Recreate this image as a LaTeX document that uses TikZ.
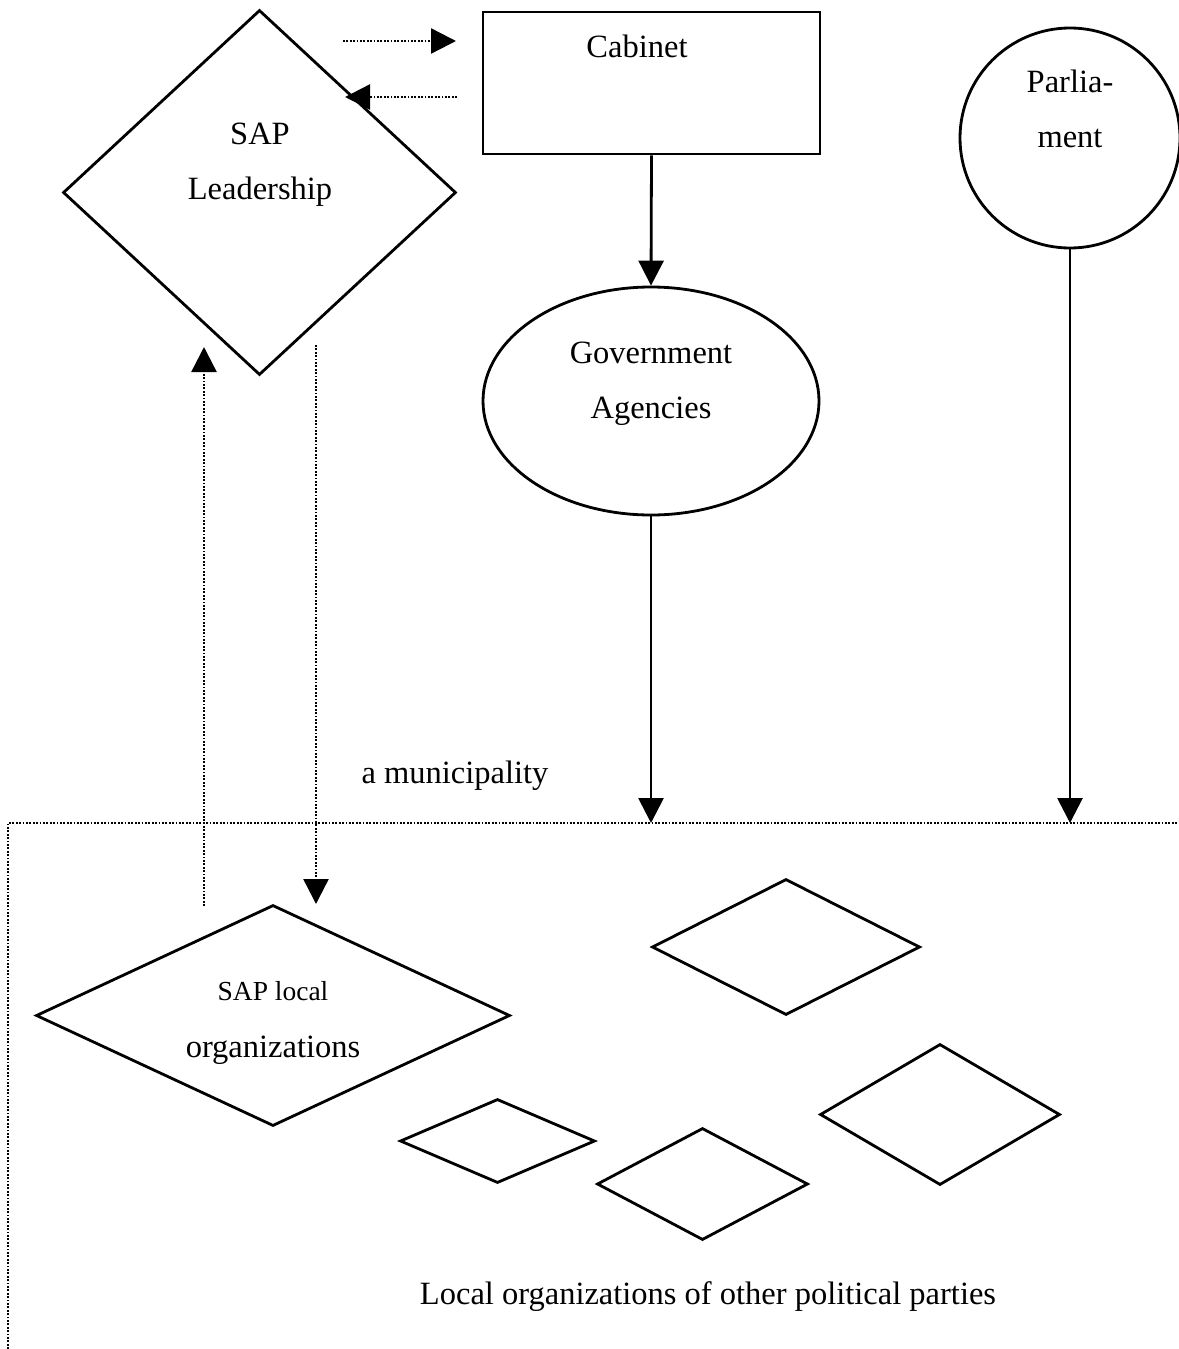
\documentclass[tikz,border=0pt]{standalone}
\usepackage{fontspec}
\setmainfont{Liberation Serif}
\usetikzlibrary{shapes.geometric,arrows.meta}
\begin{document}
\begin{tikzpicture}[x=1pt,y=-1pt,
  txt/.style={font=\fontsize{32.5}{55}\selectfont, align=center, inner sep=0pt},
  smalltxt/.style={font=\fontsize{27.5}{55}\selectfont, inner sep=0pt},
  shp/.style={draw, line width=2.8pt, inner sep=0pt},
  dmd/.style={shp, diamond, aspect=1},
  solidarrow/.style={line width=2.8pt, -{Triangle[length=25pt,width=25pt]}},
  dotarrow/.style={line width=2.4pt, dash pattern=on 1.8pt off 1.6pt, -{Triangle[length=25pt,width=25pt]}},
  dotline/.style={line width=2.4pt, dash pattern=on 1.8pt off 1.6pt}]
\useasboundingbox (0,0) rectangle (1178,1349);
% top shapes
\node[shp, minimum width=337pt, minimum height=142pt] (cab) at (651.5,83) {};
\node[txt] (cabt) at (637,46) {Cabinet};
\node[dmd, minimum width=393pt, minimum height=365pt] (sapl) at (259.5,192.5) {};
\node[txt] (saplt) at (260,165) {SAP\\Leadership};
\node[shp, circle, minimum size=220pt] (parl) at (1070,138) {};
\node[txt] (parlt) at (1070,109) {Parlia-\\ment};
\node[shp, ellipse, minimum width=336pt, minimum height=228pt] (gov) at (651,401) {};
\node[txt] (govt) at (651,384) {Government\\Agencies};
% municipality
\coordinate (mbl) at (8,1349);
\coordinate (mtl) at (8,823);
\coordinate (mtr) at (1178,823);
\draw[dotline] (mbl) -- (mtl) -- (mtr);
\node[txt, anchor=base] (mun) at (455,783) {a municipality};
\coordinate (govin) at (651,823);
\coordinate (parin) at (1070,823);
% solid arrows
\draw[solidarrow] (cab.south) -- (gov.north);
\draw[solidarrow] (gov.south) -- (govin);
\draw[solidarrow] (parl.south) -- (parin);
% dotted arrows at top
\coordinate (a1s) at (343,41);
\coordinate (a1e) at (456,41);
\coordinate (a2s) at (457,97);
\coordinate (a2e) at (345,97);
\draw[dotarrow] (a1s) -- (a1e);
\draw[dotarrow] (a2s) -- (a2e);
% local diamonds
\node[dmd, minimum width=474pt, minimum height=221pt] (sapo) at (273,1015.5) {};
\node[smalltxt, anchor=base] (sapot1) at (273,1000) {SAP local};
\node[txt, anchor=base] (sapot2) at (273,1057) {organizations};
\node[dmd, minimum width=268pt, minimum height=136pt] (d2) at (786,947) {};
\node[dmd, minimum width=240pt, minimum height=141pt] (d3) at (940,1114.5) {};
\node[dmd, minimum width=195pt, minimum height=84pt] (d4) at (497.5,1141) {};
\node[dmd, minimum width=211pt, minimum height=112pt] (d5) at (702.5,1184) {};
\node[txt, anchor=base] (other) at (708,1304) {Local organizations of other political parties};
% vertical dotted arrows
\coordinate (v1s) at (316,345);
\coordinate (v1e) at (316,904);
\coordinate (v2s) at (204,906);
\coordinate (v2e) at (204,347);
\draw[dotarrow] (v1s) -- (v1e);
\draw[dotarrow] (v2s) -- (v2e);
\end{tikzpicture}
\end{document}
